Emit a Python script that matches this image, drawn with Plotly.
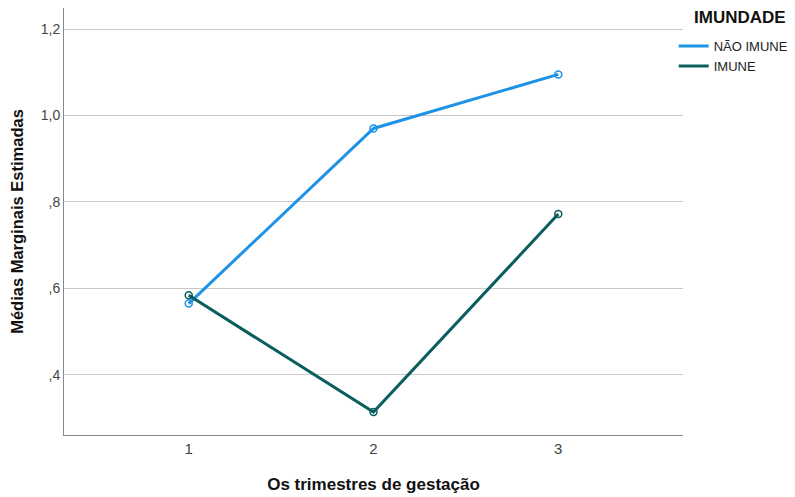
import plotly.graph_objects as go

trimestres = [1, 2, 3]
nao_imune = [0.565, 0.970, 1.095]
imune = [0.584, 0.314, 0.772]
y_ticks = [0.4, 0.6, 0.8, 1.0, 1.2]
y_tick_labels = [",4", ",6", ",8", "1,0", "1,2"]

series = [("NÃO IMUNE", nao_imune, "#1e93e6"), ("IMUNE", imune, "#0b5e5e")]

fig = go.Figure()
for name, vals, color in series:
    fig.add_trace(go.Scatter(
        x=trimestres, y=vals, name=name, mode="lines",
        line=dict(color=color, width=3), legendgroup=name,
    ))
for name, vals, color in series:
    fig.add_trace(go.Scatter(
        x=trimestres, y=vals, name=name, mode="markers", showlegend=False,
        marker=dict(symbol="circle-open", size=7, color=color, line=dict(width=1.5)),
        legendgroup=name,
    ))

fig.add_annotation(
    text="<b>IMUNDADE</b>", xref="paper", yref="paper", x=1.014, y=0.977,
    xanchor="left", yanchor="middle", showarrow=False,
    font=dict(size=17, color="#111"),
)

fig.update_layout(
    width=795, height=497,
    margin=dict(l=56, r=120, t=0, b=70, autoexpand=False),
    paper_bgcolor="white", plot_bgcolor="white",
    font=dict(family="Liberation Sans, Arial, sans-serif", color="#222"),
    showlegend=True,
    legend=dict(
        x=0.985, y=0.946, xanchor="left", yanchor="top",
        font=dict(size=13, color="#222"),
        bgcolor="rgba(0,0,0,0)", tracegroupgap=0, itemwidth=30,
    ),
    xaxis=dict(
        range=[0.325, 3.675], tickvals=trimestres, ticktext=["1", "2", "3"],
        showgrid=False, zeroline=False, showline=True, linecolor="#888", linewidth=1,
        tickfont=dict(size=15, color="#444"), ticks="",
        title=dict(text="<b>Os trimestres de gestação</b>", font=dict(size=17, color="#111"), standoff=22),
    ),
    yaxis=dict(
        range=[0.261, 1.2486], tickvals=y_ticks, ticktext=y_tick_labels,
        showgrid=True, gridcolor="#c8c8c8", gridwidth=1, zeroline=False,
        showline=True, linecolor="#888", linewidth=1,
        tickfont=dict(size=14, color="#444"), ticks="",
        title=dict(text="<b>Médias Marginais Estimadas</b>", font=dict(size=16.5, color="#111"), standoff=12),
    ),
)

fig.write_html("out.html")
